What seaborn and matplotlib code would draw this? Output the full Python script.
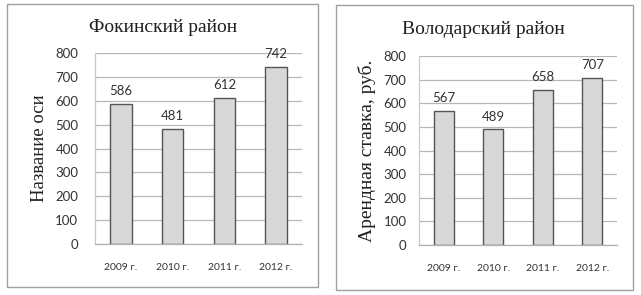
import matplotlib
matplotlib.use("Agg")
import matplotlib.pyplot as plt
import seaborn as sns
import pandas as pd
from matplotlib.patches import Rectangle

years = ["2009 г.", "2010 г.", "2011 г.", "2012 г."]
fokino_values = [586, 481, 612, 742]
volodarsky_values = [567, 489, 658, 707]
titles = ["Фокинский район", "Володарский район"]
ylabels = ["Название оси", "Арендная ставка, руб."]
yticks = [0, 100, 200, 300, 400, 500, 600, 700, 800]

sns.set_theme(style="white")
plt.rcParams['font.family'] = ['Lato', 'DejaVu Sans']

W, H = 641, 295
fig = plt.figure(figsize=(W / 100, H / 100), dpi=100)
fig.patch.set_facecolor("white")

def fx(px):
    return px / W

def fy(py):
    return 1 - py / H

# panel boxes
for (x0, y0, x1, y1) in [(7, 4, 318, 287), (336, 5, 633, 290)]:
    fig.patches.append(Rectangle((fx(x0), fy(y1)), fx(x1 - x0), (y1 - y0) / H,
                                 transform=fig.transFigure, fill=False,
                                 edgecolor="#a0a0a0", linewidth=1.0))

panels = [
    dict(vals=fokino_values, ax=(95, 302, 53, 244), title_xy=(163, 28),
         ylab_x=40, bar_w=0.42),
    dict(vals=volodarsky_values, ax=(419, 617, 56, 245), title_xy=(483, 30),
         ylab_x=367, bar_w=0.41),
]

for i, p in enumerate(panels):
    l, r, t, b = p["ax"]
    ax = fig.add_axes([fx(l), fy(b), (r - l) / W, (b - t) / H])
    df = pd.DataFrame({"year": years, "value": p["vals"]})
    sns.barplot(data=df, x="year", y="value", ax=ax, color="#d8d8d8",
                width=p["bar_w"], edgecolor="#555555", linewidth=1.0,
                saturation=1)
    ax.set_xlim(-0.5, 3.5)
    ax.set_ylim(0, 800)
    ax.set_yticks(yticks)
    ax.yaxis.grid(True, color="#b8b8b8", linewidth=0.9)
    ax.set_axisbelow(True)
    for s in ["top", "right"]:
        ax.spines[s].set_visible(False)
    ax.spines["left"].set_color("#c8c8c8")
    ax.spines["bottom"].set_color("#b0b0b0")
    ax.spines["left"].set_linewidth(0.9)
    ax.spines["bottom"].set_linewidth(0.9)
    ax.tick_params(axis="y", length=0, pad=12 if i == 0 else 9,
                   labelsize=9.5, labelcolor="#333333")
    ax.tick_params(axis="x", length=0, pad=14, labelsize=7.5,
                   labelcolor="#333333")
    ax.set_xlabel("")
    ax.set_ylabel("")
    for j, v in enumerate(p["vals"]):
        ax.annotate(str(v), (j, v), xytext=(0, 5), textcoords="offset points",
                    ha="center", va="bottom", fontsize=9.5, color="#333333")
    fig.text(fx(p["title_xy"][0]), fy(p["title_xy"][1]), titles[i],
             ha="center", va="center", fontsize=14,
             family=["Liberation Serif", "DejaVu Serif"], color="#202020")
    fig.text(fx(p["ylab_x"]), fy((t + b) / 2), ylabels[i], rotation=90,
             ha="center", va="center", fontsize=14 if i == 1 else 13.5,
             family=["Liberation Serif", "DejaVu Serif"], color="#202020")

fig.savefig("out.png", dpi=100, facecolor="white")
